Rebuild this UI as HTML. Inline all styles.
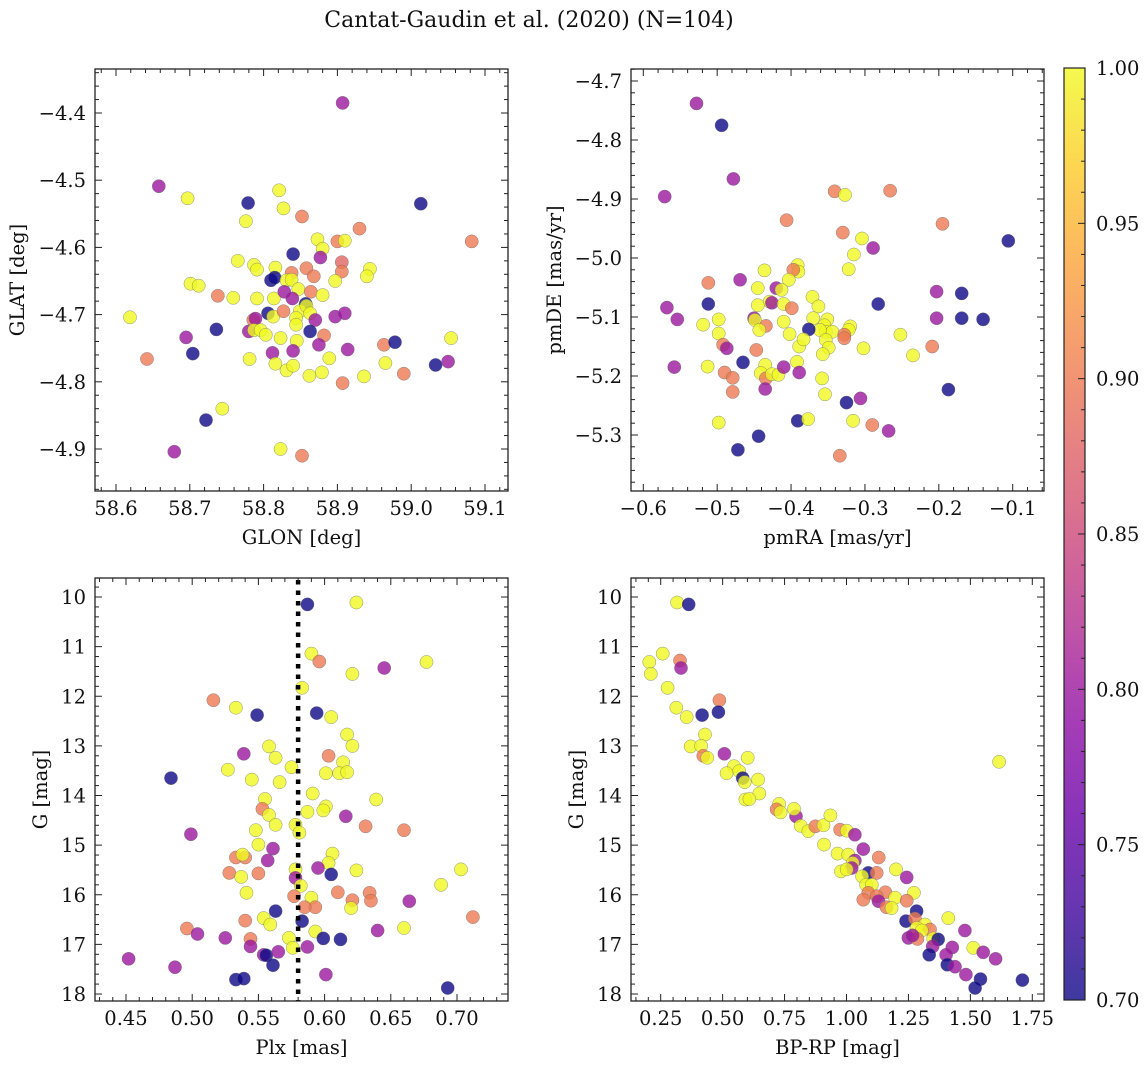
<!DOCTYPE html>
<html><head><meta charset="utf-8">
<style>
html,body{margin:0;padding:0;background:#fff;}
svg{display:block;font-family:"DejaVu Serif","Liberation Serif",serif;}
</style></head>
<body>
<svg id="fig" width="1148" height="1068" viewBox="0 0 1148 1068" xmlns="http://www.w3.org/2000/svg">
<text x="529" y="27" font-size="22" text-anchor="middle" fill="#111">Cantat-Gaudin et al. (2020) (N=104)</text>
</svg>
<script>
// ---- data (per panel) ----
const glon=[58.907,58.658,58.697,58.779,58.821,58.827,59.013,58.776,58.852,58.930,59.082,58.900,58.910,58.873,58.880,58.840,58.877,58.765,58.787,58.791,58.816,58.906,58.906,58.944,58.940,58.858,58.868,58.838,58.810,58.815,58.831,58.838,58.847,58.897,58.701,58.712,58.738,58.759,58.791,58.814,58.828,58.839,58.864,58.880,58.619,58.806,58.813,58.827,58.857,58.849,58.858,58.863,58.844,58.897,58.910,58.786,58.789,58.870,58.844,58.736,58.780,58.787,58.796,58.803,58.863,58.823,58.882,58.845,58.695,59.054,58.704,58.642,58.781,58.812,58.840,58.875,58.889,58.914,58.963,58.978,58.965,59.033,59.050,58.816,58.831,58.840,58.862,58.879,58.907,58.936,58.990,58.744,58.722,58.679,58.823,58.852];
const glat=[-4.385,-4.509,-4.527,-4.534,-4.515,-4.542,-4.535,-4.561,-4.554,-4.572,-4.591,-4.591,-4.590,-4.588,-4.602,-4.610,-4.615,-4.620,-4.626,-4.633,-4.630,-4.622,-4.636,-4.632,-4.643,-4.631,-4.643,-4.638,-4.649,-4.645,-4.649,-4.648,-4.662,-4.650,-4.654,-4.657,-4.672,-4.675,-4.676,-4.676,-4.666,-4.676,-4.666,-4.671,-4.704,-4.698,-4.703,-4.695,-4.684,-4.695,-4.687,-4.698,-4.705,-4.703,-4.698,-4.708,-4.706,-4.708,-4.715,-4.722,-4.725,-4.723,-4.723,-4.730,-4.725,-4.735,-4.731,-4.739,-4.734,-4.735,-4.758,-4.766,-4.766,-4.757,-4.754,-4.745,-4.765,-4.752,-4.745,-4.741,-4.772,-4.775,-4.770,-4.773,-4.783,-4.776,-4.791,-4.786,-4.802,-4.792,-4.788,-4.840,-4.857,-4.904,-4.900,-4.910];
const probA=[0.8,0.8,1,0.7,1,1,0.7,1,0.9,0.9,0.9,0.9,1,1,1,0.7,0.8,1,1,1,1,0.88,0.9,1,1,0.9,0.9,0.9,0.7,0.7,1,1,1,1,1,1,0.9,1,1,1,0.8,0.8,0.9,1,1,0.7,1,0.9,0.7,1,1,1,1,0.8,0.8,0.9,0.8,0.8,1,0.7,0.8,1,1,1,0.7,1,0.9,1,0.8,1,0.7,0.9,1,0.8,0.8,0.8,1,0.8,0.9,0.7,1,0.7,0.8,1,1,1,1,1,0.9,1,0.9,1,0.7,0.8,1,0.9];

const pmra=[-0.528,-0.494,-0.478,-0.571,-0.341,-0.327,-0.266,-0.406,-0.195,-0.330,-0.304,-0.289,-0.106,-0.315,-0.322,-0.391,-0.390,-0.397,-0.436,-0.403,-0.469,-0.512,-0.445,-0.420,-0.413,-0.429,-0.426,-0.410,-0.399,-0.445,-0.371,-0.363,-0.370,-0.351,-0.355,-0.353,-0.344,-0.361,-0.320,-0.322,-0.328,-0.328,-0.376,-0.512,-0.568,-0.554,-0.519,-0.498,-0.498,-0.450,-0.449,-0.434,-0.443,-0.410,-0.402,-0.389,-0.383,-0.353,-0.349,-0.357,-0.302,-0.252,-0.235,-0.209,-0.203,-0.203,-0.169,-0.169,-0.140,-0.282,-0.492,-0.487,-0.447,-0.465,-0.513,-0.558,-0.490,-0.479,-0.479,-0.435,-0.441,-0.434,-0.426,-0.417,-0.410,-0.392,-0.389,-0.358,-0.354,-0.435,-0.187,-0.325,-0.306,-0.498,-0.391,-0.377,-0.316,-0.290,-0.268,-0.444,-0.472,-0.334];
const pmde=[-4.738,-4.775,-4.866,-4.896,-4.887,-4.893,-4.886,-4.936,-4.942,-4.957,-4.967,-4.983,-4.971,-4.994,-5.019,-5.012,-5.023,-5.020,-5.021,-5.037,-5.037,-5.042,-5.051,-5.051,-5.054,-5.074,-5.076,-5.078,-5.085,-5.080,-5.066,-5.082,-5.102,-5.104,-5.114,-5.125,-5.125,-5.122,-5.116,-5.122,-5.130,-5.136,-5.121,-5.078,-5.084,-5.104,-5.113,-5.104,-5.128,-5.102,-5.105,-5.115,-5.122,-5.108,-5.129,-5.150,-5.138,-5.139,-5.152,-5.163,-5.153,-5.130,-5.165,-5.150,-5.057,-5.102,-5.060,-5.102,-5.104,-5.078,-5.147,-5.153,-5.156,-5.177,-5.184,-5.185,-5.194,-5.203,-5.227,-5.181,-5.195,-5.204,-5.197,-5.198,-5.185,-5.176,-5.194,-5.204,-5.231,-5.222,-5.223,-5.245,-5.238,-5.279,-5.276,-5.273,-5.276,-5.283,-5.293,-5.302,-5.325,-5.335];
const probB=[0.8,0.7,0.8,0.8,0.9,1,0.9,0.9,0.9,0.9,1,0.8,0.7,1,1,1,1,0.9,1,1,0.8,0.9,1,0.8,1,1,0.8,1,0.9,1,1,1,1,1,1,1,1,1,1,1,0.9,0.9,0.7,0.7,0.8,0.8,1,1,1,0.8,1,0.9,1,1,1,1,1,1,1,1,1,1,1,0.9,0.8,0.8,0.7,0.7,0.7,0.7,0.9,0.8,0.9,0.7,1,0.8,0.9,0.9,0.9,1,1,0.9,1,1,0.8,1,0.8,1,1,0.8,0.7,0.7,0.8,1,0.7,1,1,0.9,0.8,0.7,0.7,0.9];

const plx=[0.587,0.624,0.590,0.596,0.677,0.645,0.621,0.583,0.516,0.533,0.549,0.594,0.605,0.617,0.621,0.558,0.539,0.603,0.563,0.575,0.614,0.601,0.611,0.617,0.527,0.484,0.545,0.566,0.591,0.555,0.639,0.553,0.558,0.587,0.601,0.599,0.616,0.563,0.578,0.581,0.631,0.660,0.548,0.499,0.550,0.561,0.606,0.533,0.540,0.538,0.557,0.603,0.595,0.578,0.624,0.703,0.528,0.550,0.605,0.537,0.578,0.582,0.688,0.541,0.610,0.577,0.634,0.635,0.621,0.590,0.593,0.585,0.620,0.664,0.563,0.583,0.540,0.554,0.559,0.712,0.660,0.593,0.640,0.496,0.504,0.525,0.544,0.573,0.599,0.612,0.576,0.544,0.587,0.554,0.556,0.565,0.561,0.452,0.487,0.533,0.539,0.601,0.693];
const gmagC=[10.15,10.11,11.14,11.30,11.31,11.43,11.55,11.83,12.08,12.23,12.38,12.34,12.42,12.77,13.00,13.01,13.16,13.20,13.24,13.43,13.33,13.55,13.55,13.53,13.48,13.65,13.68,13.73,13.96,14.07,14.08,14.27,14.39,14.33,14.22,14.30,14.42,14.59,14.59,14.75,14.62,14.70,14.70,14.78,14.99,15.07,15.17,15.25,15.25,15.19,15.31,15.36,15.46,15.49,15.51,15.49,15.56,15.57,15.59,15.64,15.66,15.82,15.80,15.96,15.95,16.03,15.96,16.12,16.11,16.06,16.25,16.25,16.27,16.13,16.33,16.53,16.52,16.47,16.60,16.45,16.67,16.74,16.72,16.68,16.79,16.87,16.89,16.87,16.88,16.90,17.07,17.04,17.05,17.21,17.22,17.15,17.42,17.29,17.46,17.71,17.69,17.61,17.88];
const probC=[0.7,1,1,0.9,1,0.8,1,1,0.9,1,0.7,0.7,1,1,1,1,0.8,0.9,1,1,1,1,1,1,1,0.7,1,1,1,1,1,0.9,1,1,1,1,0.8,1,1,1,0.9,0.9,1,0.8,1,0.8,1,0.9,0.9,1,0.8,1,0.8,1,1,1,0.9,0.9,0.7,1,0.8,1,1,1,0.9,0.9,0.9,0.9,0.9,1,0.9,0.9,1,0.8,0.7,0.7,0.9,1,1,0.9,1,1,0.8,0.9,0.8,0.8,0.9,1,0.7,0.7,1,0.8,0.8,0.8,0.7,0.8,0.7,0.8,0.8,0.7,0.7,0.8,0.7];

const bprp=[0.316,0.363,0.258,0.204,0.210,0.328,0.332,0.278,0.487,0.483,0.417,0.313,0.355,0.429,0.371,0.413,0.422,0.438,0.507,0.601,1.616,0.546,0.567,0.516,0.581,0.589,0.643,0.648,0.592,0.608,0.728,0.718,0.734,0.796,0.788,0.815,0.846,0.874,0.907,0.935,0.974,1.001,1.034,0.909,1.068,1.130,0.964,1.007,1.034,1.025,1.021,0.978,1.001,1.200,1.243,1.088,1.122,1.063,1.079,1.102,1.088,1.157,1.272,1.122,1.068,1.196,1.243,1.129,1.161,1.182,1.283,1.240,1.276,1.411,1.317,1.283,1.337,1.304,1.478,1.250,1.286,1.267,1.350,1.370,1.348,1.427,1.512,1.334,1.402,1.552,1.602,1.407,1.438,1.482,1.541,1.519,1.710];
const gmagD=[10.11,10.15,11.14,11.31,11.55,11.28,11.43,11.83,12.08,12.32,12.38,12.23,12.42,12.77,13.01,13.00,13.20,13.24,13.16,13.24,13.32,13.41,13.51,13.55,13.65,13.73,13.68,13.96,14.08,14.07,14.17,14.28,14.34,14.42,14.27,14.61,14.72,14.62,14.60,14.40,14.69,14.71,14.79,14.99,15.08,15.25,15.17,15.19,15.31,15.36,15.46,15.53,15.49,15.49,15.65,15.56,15.56,15.63,15.80,15.80,15.96,15.95,15.96,16.03,16.10,16.06,16.12,16.13,16.25,16.27,16.33,16.53,16.48,16.47,16.60,16.67,16.70,16.72,16.72,16.87,16.89,16.82,16.88,16.90,17.04,17.06,17.07,17.21,17.21,17.16,17.29,17.41,17.45,17.61,17.70,17.88,17.72];
const probD=[1,0.7,1,1,1,0.9,0.8,1,0.9,0.7,0.7,1,1,1,1,1,0.9,1,0.8,1,1,1,1,1,0.7,1,1,1,1,1,1,0.9,1,0.8,1,1,1,0.9,1,1,0.9,1,0.8,1,0.8,0.9,1,1,0.8,1,0.8,1,1,1,0.8,0.7,0.9,1,1,1,0.9,0.9,1,0.9,0.9,1,0.9,0.8,0.9,1,0.7,0.7,0.9,1,1,1,0.9,1,0.8,0.8,0.9,0.8,1,0.7,0.8,0.8,1,0.7,0.8,0.8,0.8,0.7,0.8,0.8,0.7,0.7,0.7];

const cbTicks=[0.70,0.75,0.80,0.85,0.90,0.95,1.00];
const plxRef=[0.58];

// ---- helpers ----
const NS='http://www.w3.org/2000/svg';
const svg=document.getElementById('fig');
const FS=19.5;
function mk(tag,attrs,parent){const e=document.createElementNS(NS,tag);for(const k in attrs)e.setAttribute(k,attrs[k]);(parent||svg).appendChild(e);return e;}
const stops=[[0,'#0d0887'],[0.1,'#41049d'],[0.2,'#6a00a8'],[0.3,'#8f0da4'],[0.4,'#b12a90'],[0.5,'#cc4778'],[0.6,'#e16462'],[0.7,'#f2844b'],[0.8,'#fca636'],[0.9,'#fcce25'],[1,'#f0f921']];
function hex(h){return [1,3,5].map(i=>parseInt(h.substr(i,2),16));}
function plasma(t){t=Math.max(0,Math.min(1,t));for(let i=1;i<stops.length;i++){if(t<=stops[i][0]){const a=stops[i-1],b=stops[i];const f=(t-a[0])/(b[0]-a[0]);const ca=hex(a[1]),cb=hex(b[1]);return 'rgb('+ca.map((v,j)=>Math.round(v+(cb[j]-v)*f)).join(',')+')';}}return stops[10][1];}
function lin(v0,p0,v1,p1){return v=>p0+(v-v0)*(p1-p0)/(v1-v0);}
function fmt(v,d){return (v<0?'\u2212':'')+Math.abs(v).toFixed(d);}

function panel(o){
  const g=mk('g',{});
  
  
  const {x0,x1,y0,y1}=o.box;
  const sx=o.sx, sy=o.sy;
  const pts=mk('g',{},g);
  
  
  for(let i=0;i<o.xs.length;i++){
    const c=mk('circle',{cx:sx(o.xs[i]).toFixed(1),cy:sy(o.ys[i]).toFixed(1),r:6.6,fill:plasma((o.ps[i]-0.7)/0.3),'fill-opacity':0.8,stroke:'#666','stroke-width':0.5,'stroke-opacity':0.7},pts);
    
    
  }
  if(o.extra)o.extra(g);
  const ax=mk('g',{},g);
  
  
  mk('rect',{x:x0,y:y0,width:x1-x0,height:y1-y0,fill:'none',stroke:'#222','stroke-width':1.3},ax);
  for(let v=o.xmin;v<=o.xmax+1e-9;v+=o.xminor){
    const p=sx(v); if(p<x0||p>x1)continue;
    const major=Math.abs(Math.round(v/o.xmajor)*o.xmajor-v)<1e-6;
    const L=major?7:4;
    mk('line',{x1:p,x2:p,y1:y1,y2:y1-L,stroke:'#222','stroke-width':1},ax);
    mk('line',{x1:p,x2:p,y1:y0,y2:y0+L,stroke:'#222','stroke-width':1},ax);
    if(major){const t=mk('text',{x:p,y:y1+24,'font-size':FS,'text-anchor':'middle',fill:'#111'},ax);t.textContent=fmt(v,o.xd);
      }
  }
  for(let v=o.ymin;v<=o.ymax+1e-9;v+=o.yminor){
    const p=sy(v); if(p<y0||p>y1)continue;
    const major=Math.abs(Math.round(v/o.ymajor)*o.ymajor-v)<1e-6;
    const L=major?7:4;
    mk('line',{x1:x0,x2:x0+L,y1:p,y2:p,stroke:'#222','stroke-width':1},ax);
    mk('line',{x1:x1,x2:x1-L,y1:p,y2:p,stroke:'#222','stroke-width':1},ax);
    if(major){const t=mk('text',{x:x0-9,y:p+7,'font-size':FS,'text-anchor':'end',fill:'#111'},ax);t.textContent=fmt(v,o.yd);
      }
  }
  const xl=mk('text',{x:(x0+x1)/2,y:y1+53,'font-size':FS,'text-anchor':'middle',fill:'#111'},g);
  xl.textContent=o.xlabel;
  
  
  const yl=mk('text',{x:0,y:0,'font-size':FS,'text-anchor':'middle',fill:'#111',transform:`translate(${o.ylx},${(y0+y1)/2}) rotate(-90)`},g);
  yl.textContent=o.ylabel;
  
  
}

panel({name:'glon-glat-panel',box:{x0:95,x1:508,y0:69,y1:491},sx:lin(58.6,116,59.1,485),sy:lin(-4.4,113,-4.9,449),
  xs:glon,ys:glat,ps:probA,xmin:58.56,xmax:59.14,xminor:0.02,xmajor:0.1,xd:1,ymin:-4.98,ymax:-4.30,yminor:0.02,ymajor:0.1,yd:1,
  xlabel:'GLON [deg]',ylabel:'GLAT [deg]',ylx:24});
panel({name:'proper-motion-panel',box:{x0:631,x1:1044,y0:69,y1:491},sx:lin(-0.6,643.3,-0.1,1012.7),sy:lin(-4.7,81,-5.3,435),
  xs:pmra,ys:pmde,ps:probB,xmin:-0.64,xmax:-0.04,xminor:0.02,xmajor:0.1,xd:1,ymin:-5.40,ymax:-4.66,yminor:0.02,ymajor:0.1,yd:1,
  xlabel:'pmRA [mas/yr]',ylabel:'pmDE [mas/yr]',ylx:561});
panel({name:'parallax-magnitude-panel',box:{x0:95,x1:508,y0:578,y1:1001},sx:lin(0.45,126,0.70,457),sy:lin(10,597,18,994),
  xs:plx,ys:gmagC,ps:probC,xmin:0.42,xmax:0.74,xminor:0.01,xmajor:0.05,xd:2,ymin:9.6,ymax:18.2,yminor:0.2,ymajor:1,yd:0,
  xlabel:'Plx [mas]',ylabel:'G [mag]',ylx:47,
  extra:g=>{const sx=lin(0.45,126,0.70,457);plxRef.forEach(v=>{const l=mk('line',{x1:sx(v),x2:sx(v),y1:580,y2:1001,stroke:'#000','stroke-width':4.5,'stroke-dasharray':'4.5 6'},g);
    });}});
panel({name:'color-magnitude-panel',box:{x0:631,x1:1044,y0:578,y1:1001},sx:lin(0.25,660.7,1.75,1032.3),sy:lin(10,597,18,994),
  xs:bprp,ys:gmagD,ps:probD,xmin:0.10,xmax:1.80,xminor:0.05,xmajor:0.25,xd:2,ymin:9.6,ymax:18.2,yminor:0.2,ymajor:1,yd:0,
  xlabel:'BP-RP [mag]',ylabel:'G [mag]',ylx:583});

// colorbar
(function(){
  const cb=mk('g',{});
  
  
  const defs=mk('defs',{},cb);
  const lg=mk('linearGradient',{id:'cbg',x1:0,y1:1,x2:0,y2:0},defs);
  for(let i=0;i<=20;i++)mk('stop',{offset:i/20,'stop-color':plasma(i/20)},lg);
  const x0=1064,x1=1085,y0=68,y1=1000;
  mk('rect',{x:x0,y:y0,width:x1-x0,height:y1-y0,fill:'url(#cbg)','fill-opacity':0.8},cb);
  mk('rect',{x:x0,y:y0,width:x1-x0,height:y1-y0,fill:'none',stroke:'#222','stroke-width':1.2},cb);
  const sy=lin(0.70,y1,1.00,y0);
  for(let v=0.70;v<=1.0001;v+=0.01){const p=sy(v);const major=Math.abs(Math.round(v*20)/20-v)<1e-6;
    mk('line',{x1:x1,x2:x1-(major?7:4),y1:p,y2:p,stroke:'#222','stroke-width':1},cb);}
  cbTicks.forEach(v=>{const t=mk('text',{x:1096,y:sy(v)+7,'font-size':FS,fill:'#111'},cb);t.textContent=v.toFixed(2);
    });
})();
</script>
</body></html>
